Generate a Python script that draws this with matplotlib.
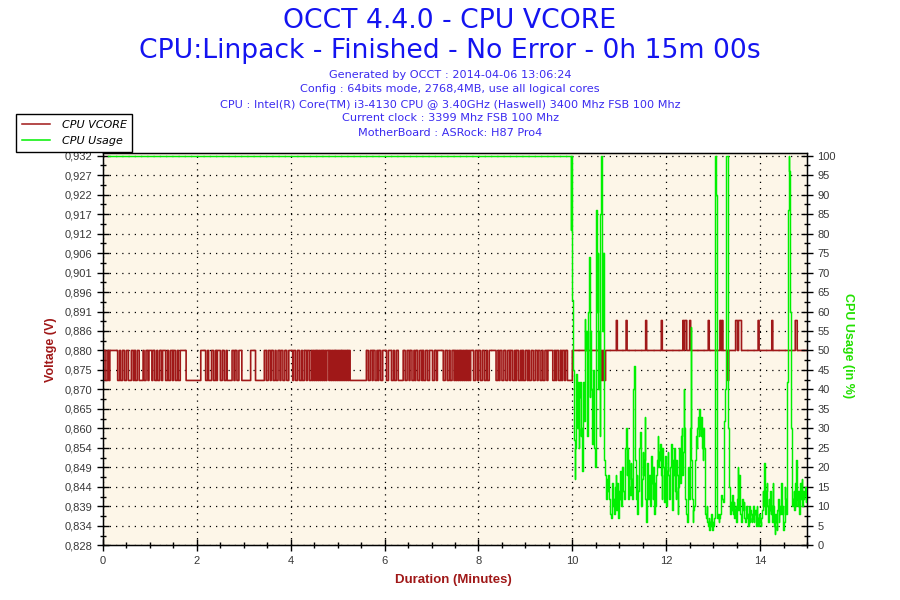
import numpy as np
import matplotlib
matplotlib.use('Agg')
import matplotlib.pyplot as plt
from matplotlib.lines import Line2D
from matplotlib.ticker import FixedLocator, MultipleLocator, FixedFormatter

# ---------------- texts ----------------
title_lines = ["OCCT 4.4.0 - CPU VCORE",
               "CPU:Linpack - Finished - No Error - 0h 15m 00s"]
info_lines = ["Generated by OCCT : 2014-04-06 13:06:24",
              "Config : 64bits mode, 2768,4MB, use all logical cores",
              "CPU : Intel(R) Core(TM) i3-4130 CPU @ 3.40GHz (Haswell) 3400 Mhz FSB 100 Mhz",
              "Current clock : 3399 Mhz FSB 100 Mhz",
              "MotherBoard : ASRock: H87 Pro4"]
series_names = ["CPU VCORE", "CPU Usage"]
x_label = "Duration (Minutes)"
y_label = "Voltage (V)"
y2_label = "CPU Usage (in %)"

# ---------------- axes data ----------------
volt_ticks_range = (0.8284, 0.9324)
volt_tick_labels = ["0,828", "0,834", "0,839", "0,844", "0,849", "0,854", "0,860",
                    "0,865", "0,870", "0,875", "0,880", "0,886", "0,891", "0,896",
                    "0,901", "0,906", "0,912", "0,917", "0,922", "0,927", "0,932"]
usage_ticks = list(range(0, 101, 5))
usage_top = 100.6
minute_ticks = [0, 2, 4, 6, 8, 10, 12, 14]

# ---------------- voltage (one string per minute, L/H/S levels) ----------------
volt_levels = {'L': 0.8724, 'H': 0.8804, 'S': 0.8884}
volt_minutes = [
    "LHHLLHLHHHHHHHHLLHLLHHLLHHLLLHHLHLLHHLLLLHLLHHLH",
    "HHLHHLLHLLHHLHHHLLHLLHHLHHLLHLLHHHHHHLLLLLLLLLLL",
    "LLLLHHHHHLLHLLLHHLLHLHHHLLHHLLHLLLLLHHLHHLLHHHLL",
    "LLLLLLLHHHHHLLLLLLLLLHHLLHHLHHLLHLLHHLHHLLHHLLHH",
    "HHLHHLLHHLLHLLHHLHHLLHLHLHLHLHLHLHLHLHHLHLHLHLHL",
    "HLHLHLHLHLHLHLLLLLLLLLLLLLLLLLHHLLHHLHHLLHLHHLLHH",
    "HHLLHHHLLHLLHHLLLLLHHLLHHLHHLLHLHHLLHHLHLLHHLLHH",
    "HLLHHLHHHHHHLLHHLLHLLHHLHLHLHLHLHLHLHLHLHHHLLHHL",
    "HHLLHHLLHLLHHHHHHHLLHLHHLLHHLLHHLHHLLHLHHLLHLHLL",
    "HHLHLLHHLLHHLHHLLHLLHHLHHHHHLLHLHHLLHLHHLHHLLLLL",
    "HHHHHHHHHHHHHHHHHHHHHHHHHHHHLHLHLLHHHHHHHHHHHSHH",
    "HHHHHHHSHHHHHHHHHHHHHHHHHHHSHHHHHHHHHHHHHHHSHHHH",
    "HHHHHHHHHHHHHHHHHSHSSHHHSHHHHHHHHHHHHHHHHHHSHHHH",
    "HHHHHHHSHSHHHHHLHHHHHHHSSHSSSHHHHHHHHHHHHHHHHHSH",
    "HHHHHHHHHHHHSHHHHHHHHHHHHHHHHHHHHHHHSSHHHHHHHHHH",
]

# ---------------- CPU usage ----------------
cpu_load_t = [0.1, 9.95]
cpu_load_v = [100, 100]
cpu_idle_t_range = (9.95, 15.0)
cpu_idle_v = [
    100, 81, 100, 63, 57, 45, 27, 17, 25, 44,
    40, 30, 42, 25, 38, 42, 28, 30, 19, 35,
    42, 32, 58, 50, 55, 48, 28, 60, 74, 38,
    55, 40, 30, 26, 45, 32, 25, 20, 60, 86,
    60, 75, 40, 55, 28, 85, 100, 87, 55, 75,
    45, 22, 18, 15, 12, 17, 14, 18,
    12, 9, 8, 7, 10,
    16, 10, 12, 8, 15,
    18, 9, 16, 13, 7,
    14, 12, 19, 10, 20,
    17, 14, 12, 22, 25,
    30, 18, 25, 12, 22,
    15, 13, 21, 17, 12,
    20, 40, 46, 28, 22,
    12, 18, 8, 14, 20,
    25, 29, 20, 10, 17,
    24, 18, 22, 33, 12,
    6, 15, 21, 12, 17,
    18, 10, 14, 23, 16,
    12, 20, 8, 16, 10,
    18, 22, 28, 20, 24,
    22, 26, 18, 12, 25,
    20, 15, 11, 23, 13,
    10, 19, 24, 18, 12,
    15, 20, 26, 12, 9,
    22, 18, 25, 14, 12,
    22, 18, 8, 15, 25,
    20, 16, 28, 30, 18,
    24, 40, 30, 12, 8,
    8, 6, 12, 20, 12,
    30, 56, 22, 12, 6,
    9, 10, 18, 22, 28,
    25, 30, 33, 28, 35,
    30, 28, 33, 25, 22,
    30, 25, 12, 8, 7,
    10, 6, 5, 7, 4,
    6, 5, 8, 4, 6,
    5, 7, 100, 100, 90,
    10, 7, 8, 6, 7,
    8, 10, 13, 12, 11,
    18, 32, 40, 85, 100,
    100, 45, 30, 15, 10,
    8, 11, 9, 13, 8,
    11, 7, 9, 10, 6,
    12, 20, 9, 18, 14,
    8, 6, 10, 12, 9,
    11, 7, 6, 9, 10,
    7, 8, 5, 10, 6,
    9, 8, 6, 7, 10,
    6, 8, 9, 5, 10,
    7, 5, 6, 8, 6,
    5, 7, 9, 14, 10,
    21, 12, 8, 14, 16,
    10, 6, 12, 9, 14,
    8, 10, 6, 16, 10,
    5, 3, 8, 6, 4,
    9, 12, 6, 10, 8,
    14, 16, 8, 10, 4,
    6, 15, 12, 8, 10,
    42, 86, 100, 96, 60,
    30, 15, 10, 12, 14,
    9, 16, 10, 22, 12,
    10, 14, 8, 11, 16,
    12, 17, 10, 14, 12,
    13, 15, 11, 12, 12,
]

# ---------------- styles ----------------
RED = '#A01818'
GREEN = '#00F000'
BLUE_T = '#1414F0'
BLUE_I = '#3A2AF0'
BG = '#FDF6E8'
TICKC = '#383838'

# build voltage series
vt, vv = [], []
for m, s in enumerate(volt_minutes):
    n = len(s)
    for i, c in enumerate(s):
        vt.append(m + i / n)
        vv.append(volt_levels[c])
vt.append(15.0)
vv.append(vv[-1])

cpu_idle_t = np.linspace(cpu_idle_t_range[0], cpu_idle_t_range[1], len(cpu_idle_v))
cpu_t = list(cpu_load_t) + list(cpu_idle_t)
cpu_v = list(cpu_load_v) + list(cpu_idle_v)

fig = plt.figure(figsize=(9, 6), dpi=100)
fig.patch.set_facecolor('white')
ax = fig.add_axes([103 / 900, 54.7 / 600, 704 / 900, 392 / 600])
ax.set_facecolor(BG)
ax.set_xlim(0, 15)
vspan = volt_ticks_range[1] - volt_ticks_range[0]
ax.set_ylim(volt_ticks_range[0], volt_ticks_range[0] + vspan * usage_top / 100)

vpos = np.linspace(volt_ticks_range[0], volt_ticks_range[1], len(volt_tick_labels))
ax.yaxis.set_major_locator(FixedLocator(vpos))
ax.yaxis.set_major_formatter(FixedFormatter(volt_tick_labels))
ax.yaxis.set_minor_locator(FixedLocator((vpos[:-1] + vpos[1:]) / 2))
ax.set_xticks(minute_ticks)
ax.xaxis.set_minor_locator(MultipleLocator(0.5))

ax.grid(True, which='major', color='black', linestyle=(0, (1, 4)), linewidth=0.9)
ax.tick_params(axis='both', which='major', direction='inout', length=8, width=1,
               colors='black', labelcolor=TICKC, labelsize=8)
ax.tick_params(axis='both', which='minor', direction='inout', length=5, width=1, colors='black')
for lab in ax.get_yticklabels():
    lab.set_fontfamily(['Liberation Sans', 'DejaVu Sans'])
for lab in ax.get_xticklabels():
    lab.set_fontfamily(['Liberation Sans Narrow', 'Liberation Sans', 'DejaVu Sans'])
for sp in ax.spines.values():
    sp.set_color('black')
    sp.set_linewidth(1)

ax.plot(vt, vv, color=RED, linewidth=1.2, drawstyle='steps-post', zorder=3)

ax2 = ax.twinx()
ax2.set_ylim(0, usage_top)
ax2.set_yticks(usage_ticks)
ax2.yaxis.set_minor_locator(MultipleLocator(2.5))
ax2.tick_params(axis='y', which='major', direction='inout', length=8, width=1,
                colors='black', labelcolor=TICKC, labelsize=8)
ax2.tick_params(axis='y', which='minor', direction='inout', length=5, width=1, colors='black')
for lab in ax2.get_yticklabels():
    lab.set_fontfamily(['Liberation Sans', 'DejaVu Sans'])
ax2.plot(cpu_t, cpu_v, color=GREEN, linewidth=1.05, drawstyle='steps-post', zorder=4)

# labels
fig.text(453 / 900, 1 - 580 / 600, x_label, ha='center', va='center', color=RED,
         fontsize=9.5, fontweight='bold', family=['Liberation Sans Narrow', 'Liberation Sans', 'DejaVu Sans'])
fig.text(51 / 900, 1 - 350 / 600, y_label, ha='center', va='center', color=RED, rotation=90,
         fontsize=9, fontweight='bold', family=['Liberation Sans', 'DejaVu Sans'])
fig.text(848 / 900, 1 - 346 / 600, y2_label, ha='center', va='center', color='#22E000', rotation=-90,
         fontsize=9, fontweight='bold', family=['Liberation Sans', 'DejaVu Sans'])

# titles
fig.text(0.5, 1 - 21 / 600, title_lines[0], ha='center', va='center', color=BLUE_T, fontsize=19.2)
fig.text(0.5, 1 - 51 / 600, title_lines[1], ha='center', va='center', color=BLUE_T, fontsize=19.2)
for k, line in enumerate(info_lines):
    fig.text(0.5, 1 - (75 + 14.4 * k) / 600, line, ha='center', va='center', color=BLUE_I, fontsize=8.1)

# legend
handles = [Line2D([], [], color=RED, linewidth=1.1), Line2D([], [], color=GREEN, linewidth=1.1)]
leg = fig.legend(handles, series_names, loc='upper left', bbox_to_anchor=(16 / 900, 1 - 114 / 600),
                 borderaxespad=0, frameon=True, fancybox=False, edgecolor='black', framealpha=1,
                 prop={'style': 'italic', 'size': 8}, handlelength=2.6, handletextpad=1.0,
                 borderpad=0.5, labelspacing=0.6)
leg.get_frame().set_linewidth(1)
leg.set_zorder(10)

fig.savefig('out.png', dpi=100, facecolor='white')
